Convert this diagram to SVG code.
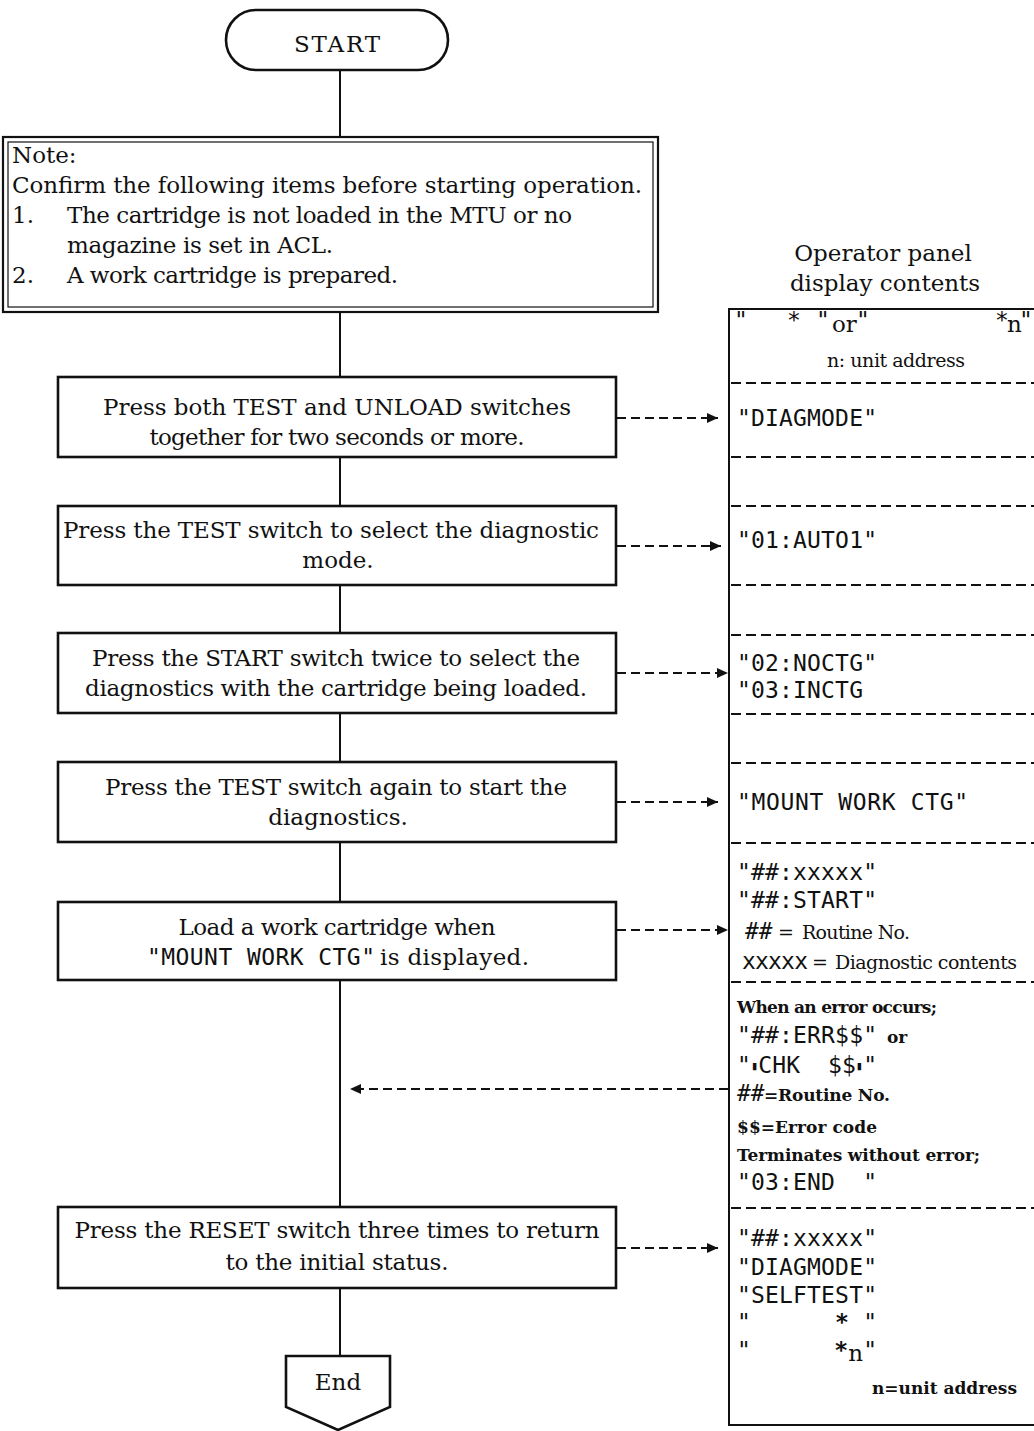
<svg xmlns="http://www.w3.org/2000/svg" width="1034" height="1431" viewBox="0 0 1034 1431">
<defs>
<marker id="ah" markerUnits="userSpaceOnUse" markerWidth="11" markerHeight="10" refX="11" refY="5" orient="auto">
<path d="M0,0 L11,5 L0,10 Z" fill="#111"/>
</marker>
<style>
.box{fill:#fff;stroke:#111;stroke-width:2.6}
.ln{stroke:#111;stroke-width:2;fill:none}
.dash{stroke:#111;stroke-width:2;stroke-dasharray:9 5;fill:none}
.div{stroke:#111;stroke-width:2;stroke-dasharray:10 5;fill:none}
.s{font-family:"DejaVu Serif","Liberation Serif",serif;font-size:23px;fill:#111}
.c{text-anchor:middle}
.m{font-family:"DejaVu Sans Mono","Liberation Mono",monospace;font-size:23px;fill:#111}
.sm{font-family:"DejaVu Serif","Liberation Serif",serif;font-size:19px;fill:#111}
.b{font-family:"DejaVu Serif","Liberation Serif",serif;font-size:17px;font-weight:bold;fill:#111}
.pre{white-space:pre}
</style>
</defs>
<rect width="1034" height="1431" fill="#fff"/>

<g id="connectors">
<line class="ln" x1="340" y1="70" x2="340" y2="137"/>
<line class="ln" x1="340" y1="312" x2="340" y2="377"/>
<line class="ln" x1="340" y1="457" x2="340" y2="506"/>
<line class="ln" x1="340" y1="585" x2="340" y2="633"/>
<line class="ln" x1="340" y1="713" x2="340" y2="762"/>
<line class="ln" x1="340" y1="842" x2="340" y2="902"/>
<line class="ln" x1="340" y1="980" x2="340" y2="1207"/>
<line class="ln" x1="340" y1="1288" x2="340" y2="1356"/>
<line class="dash" x1="617" y1="418" x2="718" y2="418" marker-end="url(#ah)"/>
<line class="dash" x1="617" y1="546" x2="721" y2="546" marker-end="url(#ah)"/>
<line class="dash" x1="617" y1="673" x2="728" y2="673" marker-end="url(#ah)"/>
<line class="dash" x1="617" y1="802" x2="718" y2="802" marker-end="url(#ah)"/>
<line class="dash" x1="617" y1="930" x2="728" y2="930" marker-end="url(#ah)"/>
<line class="dash" x1="617" y1="1248" x2="718" y2="1248" marker-end="url(#ah)"/>
<line class="dash" x1="728" y1="1089" x2="350" y2="1089" marker-end="url(#ah)"/>
</g>

<g id="start">
<rect class="box" x="226" y="10" width="222" height="60" rx="30" ry="30" stroke-width="2.2"/>
<text class="s c" x="337" y="52" textLength="86">START</text>
</g>

<g id="note">
<rect x="3" y="137" width="655" height="175" fill="#fff" stroke="#111" stroke-width="2.2"/>
<rect x="8" y="142" width="645" height="165" fill="none" stroke="#111" stroke-width="1.2"/>
<text class="s" x="12" y="163">Note:</text>
<text class="s" x="12" y="193" textLength="630">Confirm the following items before starting operation.</text>
<text class="s" x="12" y="223">1.</text>
<text class="s" x="67" y="223" textLength="505">The cartridge is not loaded in the MTU or no</text>
<text class="s" x="67" y="253" textLength="266">magazine is set in ACL.</text>
<text class="s" x="12" y="283">2.</text>
<text class="s" x="67" y="283" textLength="331">A work cartridge is prepared.</text>
</g>

<g id="step1">
<rect class="box" x="58" y="377" width="558" height="80"/>
<text class="s c" x="337" y="415" textLength="468">Press both TEST and UNLOAD switches</text>
<text class="s c" x="337" y="445" textLength="375">together for two seconds or more.</text>
</g>

<g id="step2">
<rect class="box" x="58" y="506" width="558" height="79"/>
<text class="s c" x="331" y="538" textLength="536">Press the TEST switch to select the diagnostic</text>
<text class="s c" x="338" y="568">mode.</text>
</g>

<g id="step3">
<rect class="box" x="58" y="633" width="558" height="80"/>
<text class="s c" x="336" y="666" textLength="488">Press the START switch twice to select the</text>
<text class="s c" x="336" y="696" textLength="502">diagnostics with the cartridge being loaded.</text>
</g>

<g id="step4">
<rect class="box" x="58" y="762" width="558" height="80"/>
<text class="s c" x="336" y="795" textLength="462">Press the TEST switch again to start the</text>
<text class="s c" x="338" y="825">diagnostics.</text>
</g>

<g id="step5">
<rect class="box" x="58" y="902" width="558" height="78"/>
<text class="s c" x="337" y="935" textLength="317">Load a work cartridge when</text>
<text class="m" x="147" y="965" font-size="21" textLength="228">"MOUNT  WORK  CTG"</text>
<text class="s" x="380" y="965" textLength="149">is displayed.</text>
</g>

<g id="step6">
<rect class="box" x="58" y="1207" width="558" height="81"/>
<text class="s c" x="337" y="1238" textLength="525">Press the RESET switch three times to return</text>
<text class="s c" x="337" y="1270" textLength="223">to the initial status.</text>
</g>

<g id="end">
<path class="box" d="M286,1356 H390 V1407 L338,1430 L286,1407 Z"/>
<text class="s c" x="338" y="1390">End</text>
</g>

<g id="panel">
<text class="s c" x="883" y="261">Operator panel</text>
<text class="s c" x="885" y="291">display contents</text>
<path class="ln" d="M1040,309 H729 V1425 H1040"/>
<line class="div" x1="731" y1="383" x2="1034" y2="383"/>
<line class="div" x1="731" y1="457" x2="1034" y2="457"/>
<line class="div" x1="731" y1="506" x2="1034" y2="506"/>
<line class="div" x1="731" y1="585" x2="1034" y2="585"/>
<line class="div" x1="731" y1="635" x2="1034" y2="635"/>
<line class="div" x1="731" y1="714" x2="1034" y2="714"/>
<line class="div" x1="731" y1="763" x2="1034" y2="763"/>
<line class="div" x1="731" y1="843" x2="1034" y2="843"/>
<line class="div" x1="731" y1="982" x2="1034" y2="982"/>
<line class="div" x1="731" y1="1208" x2="1034" y2="1208"/>

<text class="m" x="734" y="328">"</text>
<text class="m" x="787" y="328">*</text>
<text class="m" x="816" y="328">"</text>
<text class="s" x="832" y="332" font-size="21">or</text>
<text class="m" x="856" y="328">"</text>
<text class="m" x="995" y="328">*</text>
<text class="s" x="1007" y="332" font-size="21">n</text>
<text class="m" x="1019" y="328">"</text>
<text class="sm" x="827" y="367" textLength="138">n: unit address</text>

<text class="m" x="737" y="426" textLength="140">"DIAGMODE"</text>
<text class="m" x="737" y="548" textLength="140">"01:AUTO1"</text>
<text class="m" x="737" y="671" textLength="140">"02:NOCTG"</text>
<text class="m" x="737" y="698" textLength="126">"03:INCTG</text>
<text class="m" x="737" y="810" textLength="231">"MOUNT WORK CTG"</text>

<text class="m" x="737" y="880" textLength="140">"##:xxxxx"</text>
<text class="m" x="737" y="908" textLength="140">"##:START"</text>
<text class="m" x="745" y="939" font-size="20" font-style="italic">##</text>
<text class="sm" x="778" y="939">=</text>
<text class="sm" x="802" y="939" textLength="108">Routine No.</text>
<text class="m" x="742" y="969" font-size="20" textLength="66">xxxxx</text>
<text class="sm" x="812" y="969">=</text>
<text class="sm" x="835" y="969" textLength="182">Diagnostic contents</text>

<text class="b" x="737" y="1013" textLength="200">When an error occurs;</text>
<text class="m" x="737" y="1043" textLength="140">"##:ERR$$"</text>
<text class="b" x="887" y="1043">or</text>
<text class="m pre" x="737" y="1073" textLength="140">"<tspan font-size="12" dy="-3">▮</tspan><tspan dy="3">CHK  $$</tspan><tspan font-size="12" dy="-3">▮</tspan><tspan dy="3">"</tspan></text>
<text class="m" x="737" y="1101" font-size="20" font-style="italic">##</text>
<text class="b" x="764" y="1101" textLength="126">=Routine No.</text>
<text class="b" x="737" y="1133" textLength="140">$$=Error code</text>
<text class="b" x="737" y="1161" textLength="243">Terminates without error;</text>
<text class="m pre" x="737" y="1190" textLength="140">"03:END  "</text>

<text class="m" x="737" y="1246" textLength="140">"##:xxxxx"</text>
<text class="m" x="737" y="1275" textLength="140">"DIAGMODE"</text>
<text class="m" x="737" y="1303" textLength="140">"SELFTEST"</text>
<text class="m pre" x="737" y="1330" textLength="140">"      <tspan font-weight="bold">*</tspan> "</text>
<text class="m pre" x="737" y="1358" textLength="140">"      <tspan font-weight="bold">*</tspan><tspan class="s" font-size="21" dy="3">n</tspan><tspan dy="-3">"</tspan></text>
<text class="b" x="872" y="1394" textLength="145">n=unit address</text>
</g>
</svg>
